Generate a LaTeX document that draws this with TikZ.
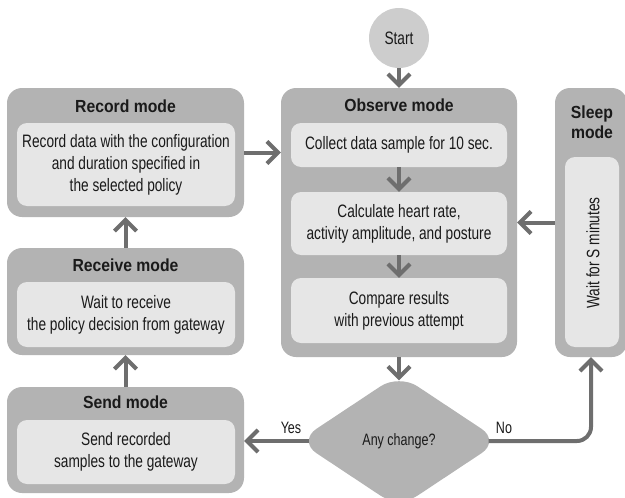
\documentclass[tikz,border=0pt]{standalone}
\usepackage{fontspec}
\setmainfont{Liberation Sans}[FakeStretch=0.76, BoldFeatures={FakeStretch=0.9}]
\usetikzlibrary{shapes.geometric,arrows.meta}
\definecolor{outerc}{HTML}{B3B3B3}
\definecolor{innerc}{HTML}{E6E6E6}
\definecolor{startc}{HTML}{CDCDCD}
\definecolor{arrc}{HTML}{6E6E6E}
\definecolor{txtc}{HTML}{1A1A1A}
\tikzset{
  outerbox/.style={fill=outerc, rounded corners=15pt, inner sep=0pt},
  innerbox/.style={fill=innerc, rounded corners=10pt, inner sep=0pt, text=txtc,
    align=center, font=\fontsize{18}{22}\selectfont},
  titletext/.style={text=txtc, align=center, font=\bfseries\fontsize{17.5}{20}\selectfont},
  plaintext/.style={text=txtc, align=center, font=\fontsize{18}{22}\selectfont},
  smalltext/.style={text=txtc, align=center, font=\fontsize{16.5}{20}\selectfont},
  arr/.style={draw=arrc, line width=4pt, -{Straight Barb[length=11pt,width=22pt]}},
}
\begin{document}
\begin{tikzpicture}[x=1pt,y=-1pt]
\useasboundingbox (0,0) rectangle (625,498);
% Start
\node[circle, fill=startc, minimum size=60pt, inner sep=0pt, plaintext] (start) at (399,38) {Start};
% Record mode
\node[outerbox, minimum width=237pt, minimum height=129pt] (rec) at (125.5,152.5) {};
\node[titletext] (rect) at (125.5,106) {Record mode};
\node[innerbox, minimum width=218pt, minimum height=83pt] (reci) at (126,164.5)
  {Record data with the configuration\\and duration specified in\\the selected policy};
% Receive mode
\node[outerbox, minimum width=237pt, minimum height=107pt] (rcv) at (125.5,301.5) {};
\node[titletext] (rcvt) at (125.5,265) {Receive mode};
\node[innerbox, minimum width=218pt, minimum height=65pt] (rcvi) at (126,314.5)
  {Wait to receive\\the policy decision from gateway};
% Send mode
\node[outerbox, minimum width=237pt, minimum height=106pt] (snd) at (125.5,440) {};
\node[titletext] (sndt) at (125.5,402) {Send mode};
\node[innerbox, minimum width=218pt, minimum height=64pt] (sndi) at (126,452)
  {Send recorded\\samples to the gateway};
% Observe mode
\node[outerbox, minimum width=236pt, minimum height=269pt] (obs) at (399,222.5) {};
\node[titletext] (obst) at (399,105) {Observe mode};
\node[innerbox, minimum width=216pt, minimum height=44pt] (o1) at (399,145)
  {Collect data sample for 10 sec.};
\node[innerbox, minimum width=216pt, minimum height=63pt] (o2) at (399,223.5)
  {Calculate heart rate,\\activity amplitude, and posture};
\node[innerbox, minimum width=216pt, minimum height=65pt] (o3) at (399,310.5)
  {Compare results\\with previous attempt};
% Sleep mode
\node[outerbox, minimum width=72pt, minimum height=269pt] (slp) at (591,222.5) {};
\node[titletext] (slpt) at (592,122) {Sleep\\mode};
\node[innerbox, minimum width=54pt, minimum height=190pt] (slpi) at (592,252) {};
\node[plaintext, rotate=90] (slptx) at (593,253) {Wait for S minutes};
% Decision
\node[diamond, fill=outerc, rounded corners=22pt, inner sep=0pt, aspect=1.5,
  minimum width=202pt, minimum height=134pt, smalltext] (dia) at (399,441) {Any change?};
% Labels
\node[smalltext] (yes) at (291,428) {Yes};
\node[smalltext] (no) at (504,428) {No};
% Connectors
\draw[arr] (start) -- (obs.north);
\draw[arr] (o1) -- (o2);
\draw[arr] (o2) -- (o3);
\draw[arr] (obs.south) -- ([yshift=-6.5pt]dia.north);
\draw[arr] (rec.east) -- (obs.west |- rec.east);
\draw[arr] (slp.west) -- (obs.east);
\draw[arr] (rcv.north) -- (rec.south);
\draw[arr] (snd.north) -- (rcv.south);
\draw[arr] ([xshift=11.5pt]dia.west) -- (snd.east |- dia.west);
\draw[arr, rounded corners=14pt] ([xshift=-11.5pt]dia.east) -- (slp.south |- dia.east) -- (slp.south);
\end{tikzpicture}
\end{document}
